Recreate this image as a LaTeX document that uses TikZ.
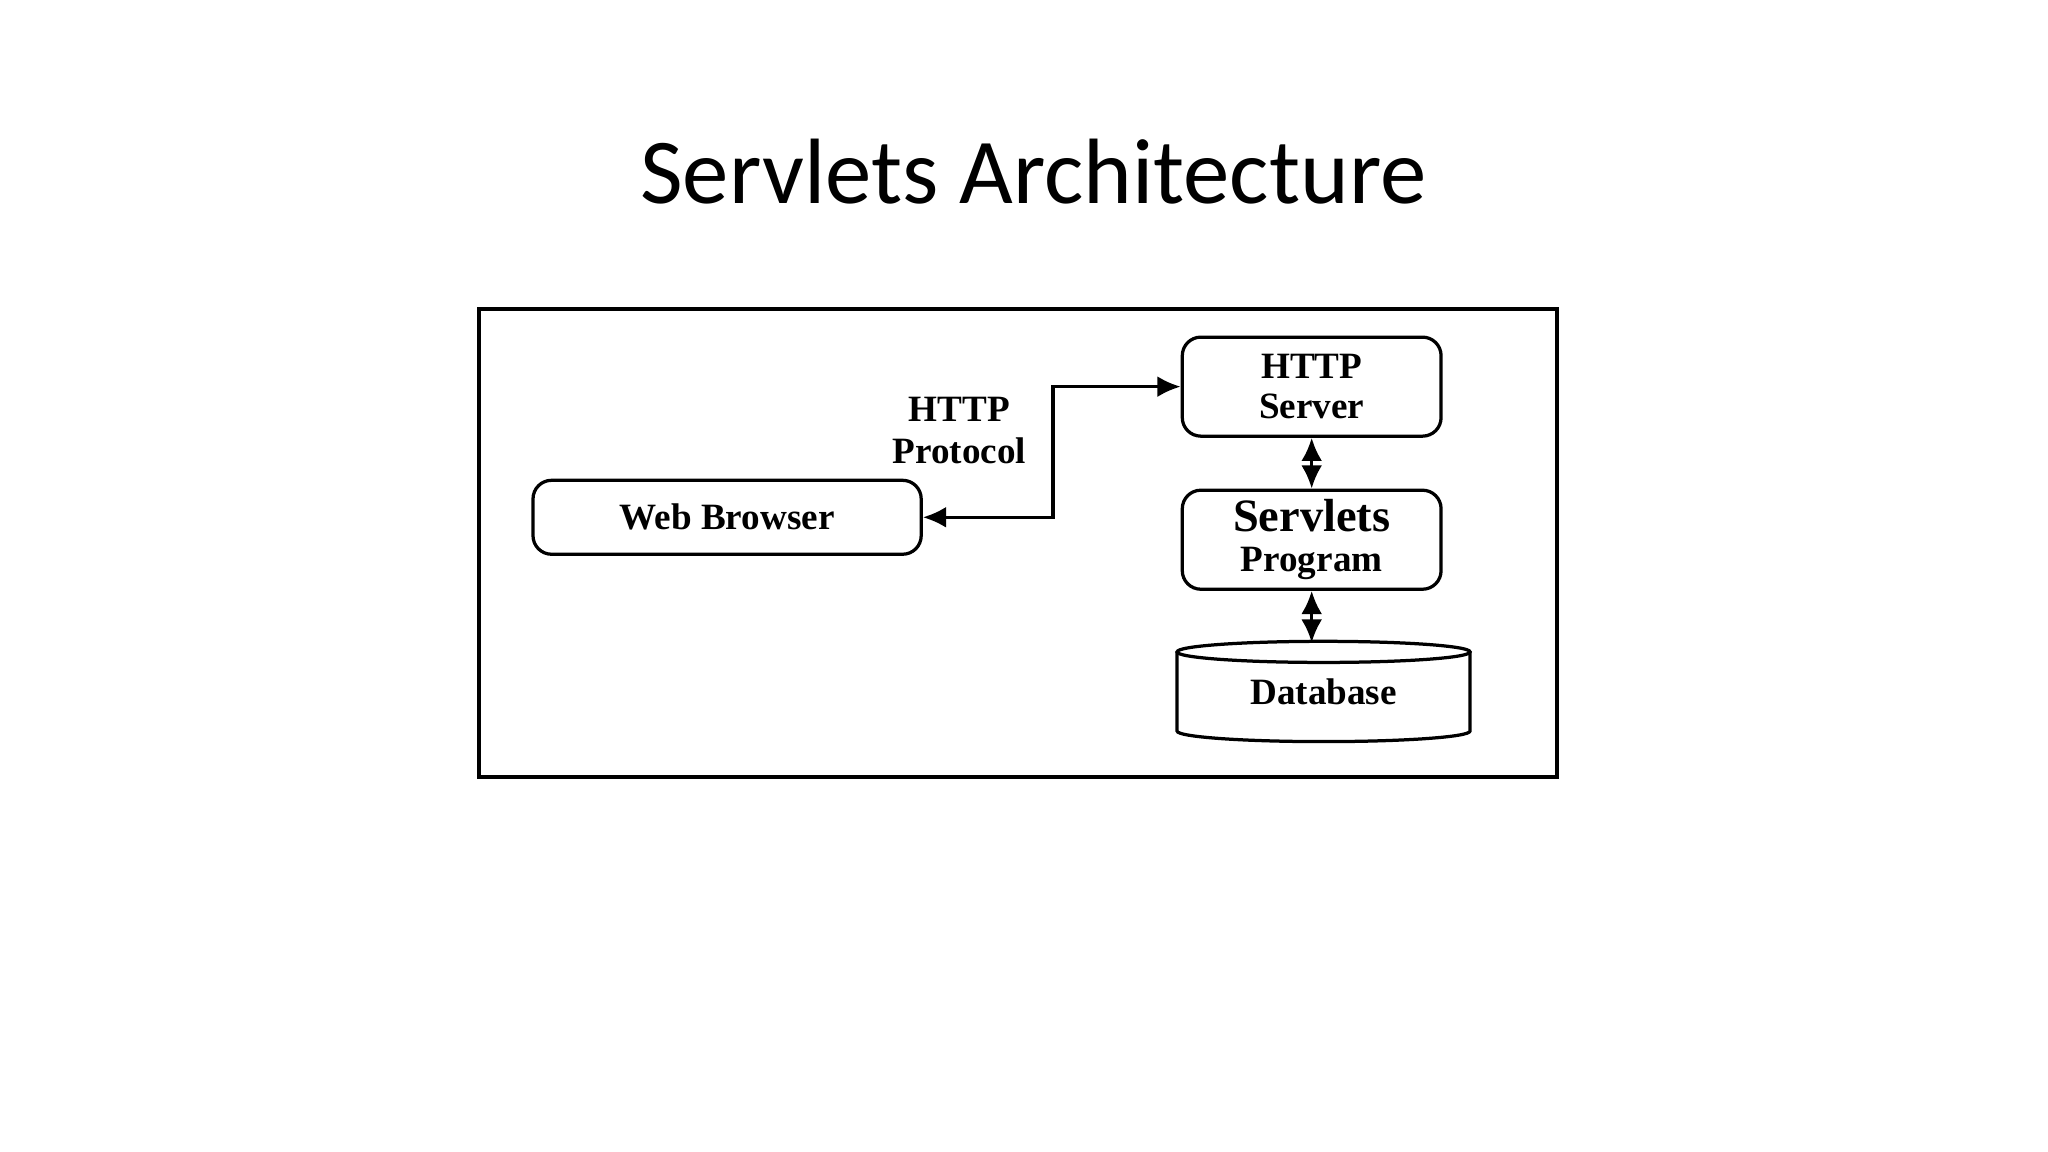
\documentclass[tikz,border=0pt]{standalone}
\usepackage{fontspec}
\setmainfont{Liberation Serif}
\newfontfamily\titlefont{Carlito}
\usetikzlibrary{arrows.meta}
\begin{document}
\begin{tikzpicture}[x=0.01cm,y=-0.01cm,
  box/.style={draw,line width=0.7pt,rounded corners=4pt,font=\bfseries\fontsize{8}{8.5}\selectfont,align=center,inner sep=0pt},
  conn/.style={line width=0.7pt,{Latex[length=5pt,width=4.5pt]}-{Latex[length=5pt,width=4.5pt]}},
  lbl/.style={font=\bfseries\fontsize{8}{9}\selectfont,align=center}]
\useasboundingbox (0,0) rectangle (1552,873);
\node[font=\titlefont\fontsize{20}{24}\selectfont] (title) at (783,130) {Servlets Architecture};
\draw[line width=0.8pt] (363,234) rectangle (1180,589);
\node[box,minimum width=2.94cm,minimum height=0.56cm] (wb) at (551,392) {Web Browser};
\node[box,minimum width=1.96cm,minimum height=0.75cm] (hs) at (994,293) {HTTP\\Server};
\node[box,minimum width=1.96cm,minimum height=0.75cm] (sp) at (994,409) {{\fontsize{10}{10}\selectfont Servlets}\\Program};
\node[lbl] (proto) at (727,326) {HTTP\\Protocol};
\draw[line width=0.7pt] (1114,494) -- (1114,554) arc[start angle=0,end angle=180,x radius=111,y radius=8] -- (892,494);
\draw[line width=0.7pt] (1003,494) ellipse[x radius=111,y radius=8];
\node[minimum width=2.23cm,minimum height=0.75cm,inner sep=0pt,font=\bfseries\fontsize{8}{9}\selectfont] (db) at (1003,524) {Database\hspace{0.3cm}};
\coordinate (bend) at (798,392);
\coordinate (dbtop) at (994,487);
\draw[conn] (wb.east) -- (bend) |- (hs.west);
\draw[conn] (hs.south) -- (sp.north);
\draw[conn] (sp.south) -- (dbtop);
\end{tikzpicture}
\end{document}
